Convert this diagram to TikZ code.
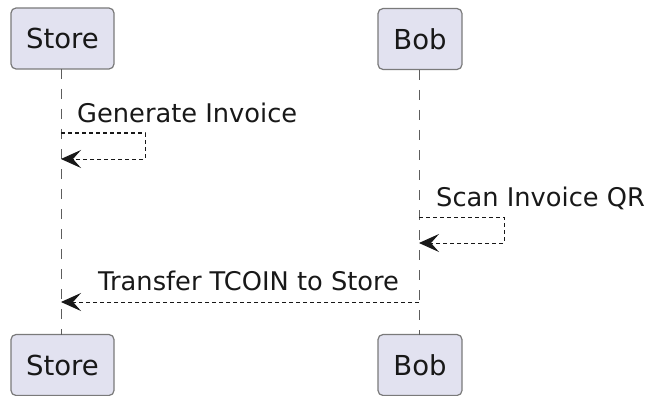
\documentclass[tikz,border=0pt]{standalone}
\usepackage{fontspec}
\setmainfont{DejaVu Sans}
\usetikzlibrary{arrows.meta}
\definecolor{partfill}{HTML}{E2E2F0}
\definecolor{partborder}{HTML}{7A7A7A}
\definecolor{ink}{HTML}{181818}
\begin{document}
\begin{tikzpicture}[x=1pt,y=-1pt,
  participant/.style={draw=partborder, line width=1.2pt, fill=partfill, rounded corners=5pt,
     minimum height=61pt, inner sep=0pt, text depth=0pt,
     font=\fontsize{27.5}{30}\selectfont, text=ink},
  lifeline/.style={draw=ink!70, line width=1pt, dash pattern=on 10pt off 10pt},
  msg/.style={draw=ink, line width=1pt, dash pattern=on 4pt off 3pt,
     -{Stealth[length=20pt, width=18pt, inset=8pt]}},
  msgtext/.style={anchor=base west, inner sep=0pt, font=\fontsize{25.7}{28}\selectfont, text=ink}]
\useasboundingbox (0,0) rectangle (646,396);

\node[participant, minimum width=103pt] (storeTop) at (62.5,38.5) {Store};
\node[participant, minimum width=84pt] (bobTop) at (420,39) {Bob};
\node[participant, minimum width=103pt] (storeBot) at (62.5,365) {Store};
\node[participant, minimum width=84pt] (bobBot) at (420,365) {Bob};

\coordinate (sL) at (61,69);
\coordinate (sB) at (61,335);
\coordinate (bL) at (419,70);
\coordinate (bB) at (419,335);
\draw[lifeline] (sL) -- (sB);
\draw[lifeline] (bL) -- (bB);

% Generate Invoice (self message on Store)
\coordinate (g1) at (61,133);
\coordinate (g2) at (145,133);
\coordinate (g3) at (145,159);
\coordinate (g4) at (61,159);
\draw[msg] (g1) -- (g2) -- (g3) -- (g4);
\node[msgtext] (tGen) at (77,122) {Generate Invoice};

% Scan Invoice QR (self message on Bob)
\coordinate (q1) at (419,217);
\coordinate (q2) at (504,217);
\coordinate (q3) at (504,243);
\coordinate (q4) at (419,243);
\draw[msg] (q1) -- (q2) -- (q3) -- (q4);
\node[msgtext] (tScan) at (436,206) {Scan Invoice QR};

% Transfer
\coordinate (t1) at (419,302);
\coordinate (t2) at (61,302);
\draw[msg] (t1) -- (t2);
\node[msgtext] (tTr) at (98,290) {Transfer TCOIN to Store};
\end{tikzpicture}
\end{document}
